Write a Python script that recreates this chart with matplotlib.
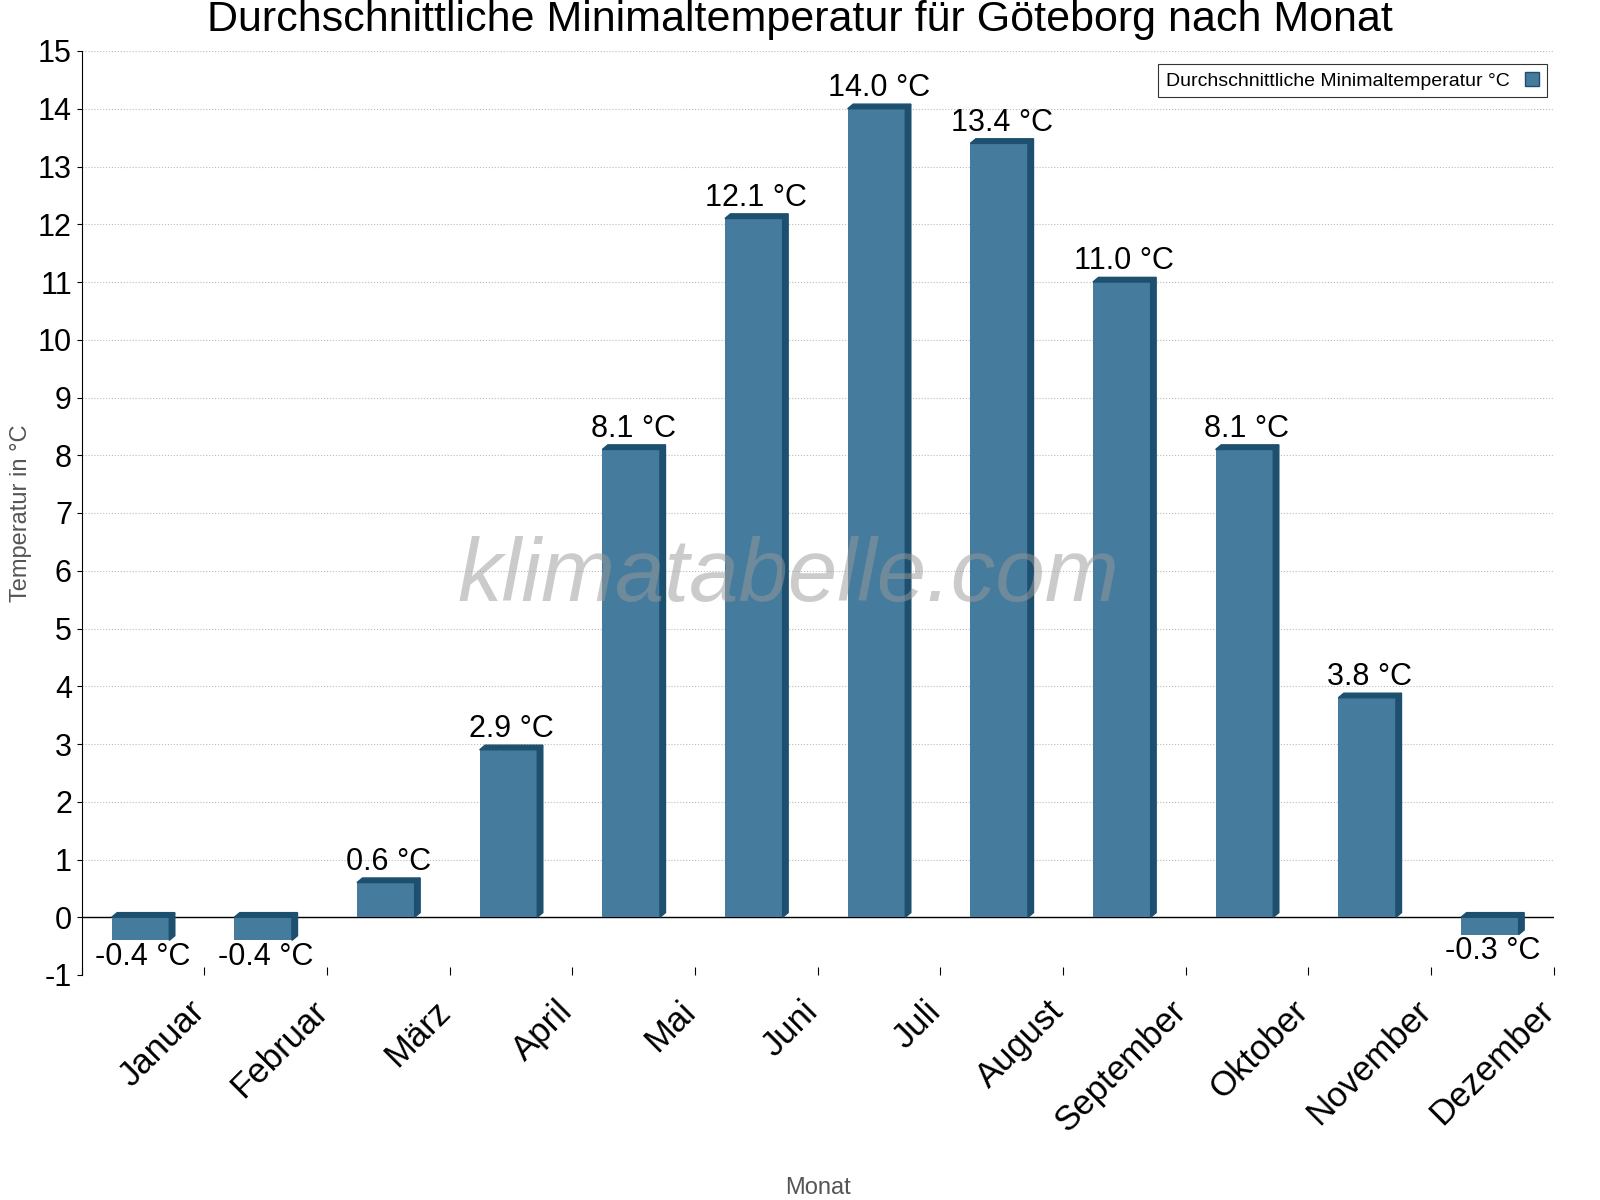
import matplotlib.pyplot as plt
import matplotlib.transforms as mtransforms
from matplotlib.patches import Polygon, Patch

plt.rcParams['font.family'] = 'Liberation Sans'
plt.rcParams['axes.unicode_minus'] = False

months = ["Januar", "Februar", "März", "April", "Mai", "Juni", "Juli",
          "August", "September", "Oktober", "November", "Dezember"]
temps = [-0.4, -0.4, 0.6, 2.9, 8.1, 12.1, 14.0, 13.4, 11.0, 8.1, 3.8, -0.3]

face = '#457b9d'
dark = '#1d4f6e'

fig = plt.figure(figsize=(16, 12), dpi=100)
ax = fig.add_axes([0.051, 0.1875, 0.92, 0.77])

w = 0.47
dx, dy = 0.045, 0.08
for i, t in enumerate(temps):
    x0 = i - w / 2 - 0.02
    x1 = x0 + w
    ax.bar(x0, t, width=w, align='edge', color=face, zorder=3)
    top = max(t, 0)
    ax.add_patch(Polygon([(x0, top), (x1, top), (x1 + dx, top + dy), (x0 + dx, top + dy)],
                         closed=True, color=dark, zorder=3))
    bot = min(t, 0)
    ax.add_patch(Polygon([(x1, bot), (x1 + dx, bot + dy), (x1 + dx, top + dy), (x1, top)],
                         closed=True, color=dark, zorder=3))
    lbl = f"{t:.1f} °C"
    if t >= 0:
        ax.text(i, t + 0.1, lbl, ha='center', va='bottom', fontsize=22, zorder=4)
    else:
        ax.text(i, t - 0.02, lbl, ha='center', va='top', fontsize=22, zorder=4)

ax.set_xlim(-0.5, 11.5)
ax.set_ylim(-1, 15)
ax.set_yticks(range(-1, 16))
ax.tick_params(axis='y', labelsize=22)
ax.set_xticks([i + 0.5 for i in range(-1, 12)], minor=False)
ax.set_xticklabels([])
ax.set_xticks(range(12), minor=True)
ax.set_xticklabels(months, minor=True, rotation=45, ha='right', rotation_mode='anchor', fontsize=25)
ax.tick_params(axis='x', which='minor', length=0, pad=14)
ax.tick_params(axis='x', which='major', length=6, direction='in')
shift = mtransforms.ScaledTranslation(0.45, 0, fig.dpi_scale_trans)
for lab in ax.get_xticklabels(minor=True):
    lab.set_transform(lab.get_transform() + shift)
ax.grid(axis='y', linestyle=':', color='#bbbbbb', zorder=0)
ax.axhline(0, color='black', linewidth=1, zorder=2)
for s in ['top', 'right', 'bottom']:
    ax.spines[s].set_visible(False)

ax.set_ylabel("Temperatur in °C", fontsize=17, color='#555555')
ax.set_xlabel("Monat", fontsize=17, color='#555555', labelpad=28)
fig.suptitle("Durchschnittliche Minimaltemperatur für Göteborg nach Monat", fontsize=31, y=1.0)

ax.text(0.48, 0.43, "klimatabelle.com", transform=ax.transAxes, ha='center', va='center',
        fontsize=64, style='italic', color='#999999', alpha=0.5, zorder=5)

leg = ax.legend(handles=[Patch(facecolor=face, edgecolor=dark)],
                labels=["Durchschnittliche Minimaltemperatur °C"], loc='upper right',
                markerfirst=False, fontsize=14, fancybox=False, edgecolor='black',
                handlelength=0.7, handleheight=0.7, bbox_to_anchor=(0.998, 0.99),
                borderaxespad=0.2)
leg.get_frame().set_linewidth(0.8)

fig.savefig("out.png")
